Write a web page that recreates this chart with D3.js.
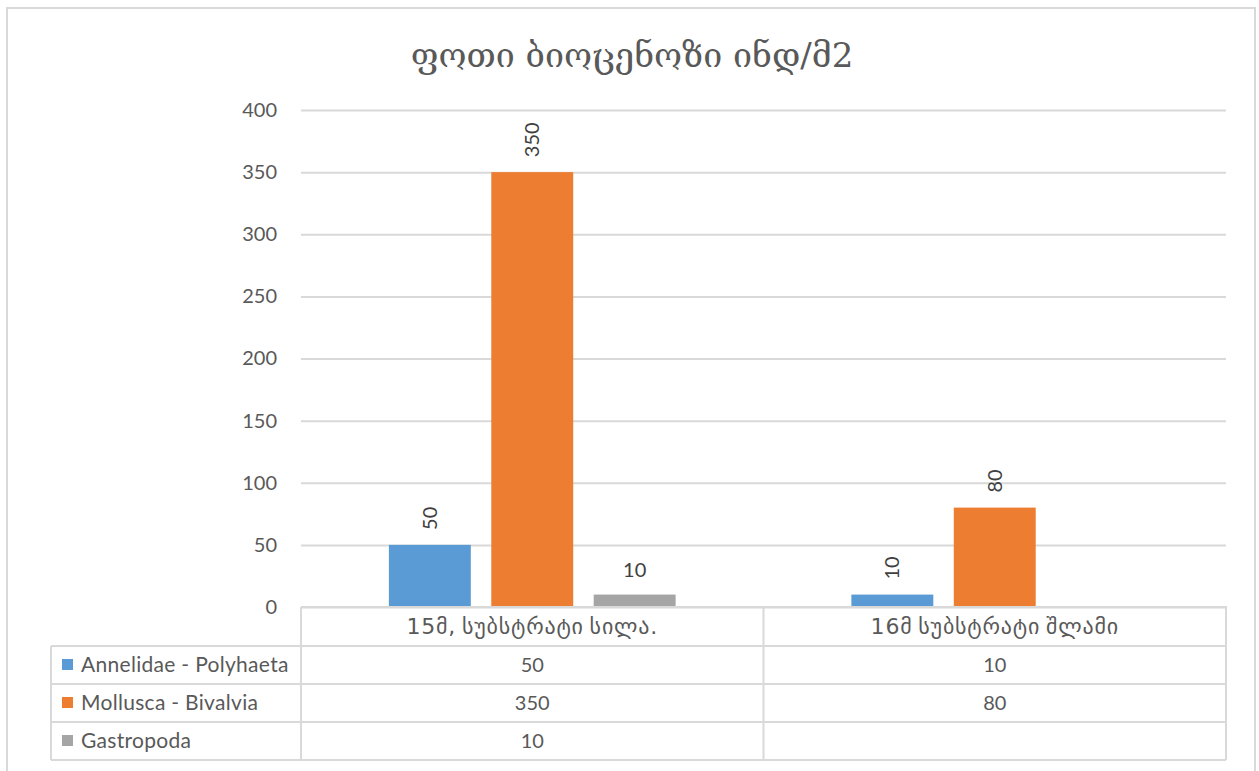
<!DOCTYPE html>
<html>
<head>
<meta charset="utf-8">
<script src="https://cdn.jsdelivr.net/npm/d3@7"></script>
<style>
  html, body { margin: 0; padding: 0; background: #fff; }
  svg { display: block; }
</style>
</head>
<body>
<svg id="chart" width="1259" height="771"></svg>
<script>
// Chart data
const title = "ფოთი ბიოცენოზი ინდ/მ2";
const categories = ["15მ, სუბსტრატი სილა.", "16მ სუბსტრატი შლამი"];
const seriesNames = ["Annelidae - Polyhaeta", "Mollusca - Bivalvia", "Gastropoda"];
const seriesColors = ["#5b9bd5", "#ed7d31", "#a5a5a5"];
const annelidae = [50, 10];
const mollusca = [350, 80];
const gastropoda = [10, null];
const yTicks = [0, 50, 100, 150, 200, 250, 300, 350, 400];
// label orientation per series/category (horizontal where the label fits)
const labelRotated = [[true, true], [true, true], [false, false]];

const seriesValues = [annelidae, mollusca, gastropoda];

const svg = d3.select("#chart");
const textColor = "#595959";
const gridColor = "#d9d9d9";
const latin = "Lato, 'Open Sans', sans-serif";
const geo = "'DejaVu Sans', sans-serif";

// outer chart frame
svg.append("path")
  .attr("d", "M7,771 V8 H1255 V771")
  .attr("fill", "none").attr("stroke", "#d9d9d9").attr("stroke-width", 2);

const plot = { left: 301, right: 1226, top: 110, bottom: 607 };

const y = d3.scaleLinear().domain([0, 400]).range([plot.bottom, plot.top]);
const x0 = d3.scaleBand().domain(d3.range(categories.length)).range([plot.left, plot.right]);
const groupWidth = x0.bandwidth() * 0.62;
const x1 = d3.scaleBand().domain(d3.range(seriesNames.length))
  .range([0, groupWidth]).paddingInner(0.2).paddingOuter(0);
const groupOffset = (x0.bandwidth() - groupWidth) / 2;

// title
svg.append("text")
  .attr("x", 632).attr("y", 67)
  .attr("text-anchor", "middle")
  .attr("font-family", "'DejaVu Serif', 'DejaVu Sans', serif")
  .attr("font-size", 34)
  .attr("fill", textColor)
  .text(title);

// gridlines and y axis labels
const yAxis = d3.axisLeft(y).tickValues(yTicks)
  .tickSize(-(plot.right - plot.left)).tickPadding(24).tickFormat(d3.format("d"));
const gy = svg.append("g").attr("transform", `translate(${plot.left},0)`).call(yAxis);
gy.select(".domain").remove();
gy.selectAll(".tick line").attr("stroke", gridColor).attr("stroke-width", 2);
gy.selectAll(".tick text")
  .attr("fill", textColor).attr("font-family", latin).attr("font-size", 20);

// bars
seriesValues.forEach((vals, si) => {
  vals.forEach((v, ci) => {
    if (v === null) return;
    const bx = x0(ci) + groupOffset + x1(si);
    svg.append("rect")
      .attr("x", bx).attr("y", y(v))
      .attr("width", x1.bandwidth()).attr("height", y(0) - y(v))
      .attr("fill", seriesColors[si]);
    const cx = bx + x1.bandwidth() / 2;
    const lbl = svg.append("text")
      .attr("fill", "#404040").attr("font-family", latin).attr("font-size", 20)
      .text(v);
    if (labelRotated[si][ci]) {
      lbl.attr("transform", `translate(${cx + 7},${y(v) - 15}) rotate(-90)`)
        .attr("text-anchor", "start");
    } else {
      lbl.attr("x", cx).attr("y", y(v) - 18).attr("text-anchor", "middle");
    }
  });
});

// data table below the plot
const tableLeft = 51;
const rowTops = [607, 646, 684, 722, 760];
const lineAttrs = sel => sel.attr("stroke", gridColor).attr("stroke-width", 2).attr("fill", "none");

// header row frame (category labels)
svg.append("path").call(lineAttrs)
  .attr("d", `M${plot.left},${rowTops[0]} V${rowTops[4]} M${plot.left},${rowTops[0]} H${plot.right} V${rowTops[4]}`);
svg.append("line").call(lineAttrs)
  .attr("x1", x0(1)).attr("x2", x0(1)).attr("y1", rowTops[0]).attr("y2", rowTops[4]);
// body row lines
for (let r = 1; r < rowTops.length; r++) {
  svg.append("line").call(lineAttrs)
    .attr("x1", tableLeft).attr("x2", plot.right).attr("y1", rowTops[r]).attr("y2", rowTops[r]);
}
svg.append("line").call(lineAttrs)
  .attr("x1", tableLeft).attr("x2", tableLeft).attr("y1", rowTops[1]).attr("y2", rowTops[4]);

// category header labels
categories.forEach((c, ci) => {
  svg.append("text")
    .attr("x", x0(ci) + x0.bandwidth() / 2)
    .attr("y", (rowTops[0] + rowTops[1]) / 2 + 7)
    .attr("text-anchor", "middle")
    .attr("font-family", geo).attr("font-size", 22)
    .attr("letter-spacing", 0.8)
    .attr("word-spacing", -2)
    .attr("fill", textColor)
    .text(c);
});

// series rows: legend key, name, values
seriesNames.forEach((name, si) => {
  const cy = (rowTops[si + 1] + rowTops[si + 2]) / 2;
  svg.append("rect")
    .attr("x", 62).attr("y", cy - 6).attr("width", 11).attr("height", 11)
    .attr("fill", seriesColors[si]);
  svg.append("text")
    .attr("x", 81).attr("y", cy + 7)
    .attr("font-family", latin).attr("font-size", 21)
    .attr("letter-spacing", 0.3)
    .attr("fill", textColor).text(name);
  seriesValues[si].forEach((v, ci) => {
    if (v === null) return;
    svg.append("text")
      .attr("x", x0(ci) + x0.bandwidth() / 2).attr("y", cy + 7)
      .attr("text-anchor", "middle")
      .attr("font-family", latin).attr("font-size", 20)
      .attr("fill", textColor).text(v);
  });
});
</script>
</body>
</html>
